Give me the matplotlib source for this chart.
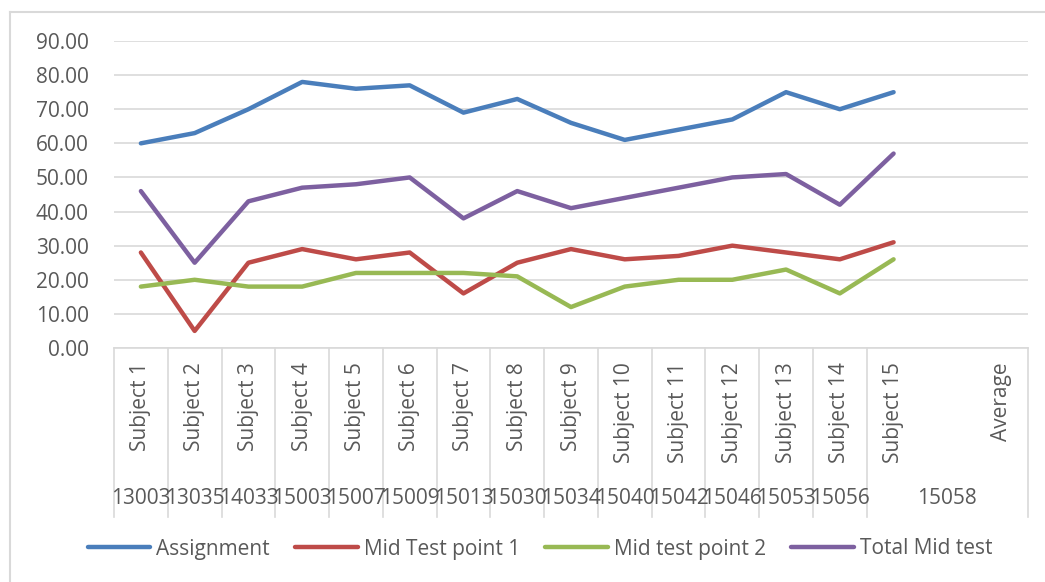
import matplotlib
matplotlib.use("Agg")
import matplotlib.pyplot as plt
import matplotlib.transforms as mtransforms
import numpy as np

# categories (inner level) and student ids (outer level)
categories = ["Subject %d" % i for i in range(1, 16)] + ["", "Average"]
groups = ["13003", "13035", "14033", "15003", "15007", "15009", "15013", "15030",
          "15034", "15040", "15042", "15046", "15053", "15056", "15058"]
group_sizes = [1] * 14 + [3]

assignment = [60, 63, 70, 78, 76, 77, 69, 73, 66, 61, 64, 67, 75, 70, 75]
mid_test_1 = [28, 5, 25, 29, 26, 28, 16, 25, 29, 26, 27, 30, 28, 26, 31]
mid_test_2 = [18, 20, 18, 18, 22, 22, 22, 21, 12, 18, 20, 20, 23, 16, 26]
total_mid = [46, 25, 43, 47, 48, 50, 38, 46, 41, 44, 47, 50, 51, 42, 57]

series = [
    ("Assignment", assignment, "#4A7EBB"),
    ("Mid Test point 1", mid_test_1, "#BE4B48"),
    ("Mid test point 2", mid_test_2, "#98B954"),
    ("Total Mid test", total_mid, "#7D60A0"),
]

plt.rcParams['font.family'] = ['Open Sans', 'DejaVu Sans']
text_color = "#595959"
grid_color = "#D9D9D9"
fs = 15

fig = plt.figure(figsize=(10.45, 5.82), dpi=100)
ax = fig.add_axes([114 / 1045, 1 - 348 / 582, (1028 - 114) / 1045, (348 - 41) / 582])

x = np.arange(len(categories))
for name, vals, color in series:
    ax.plot(x[:len(vals)], vals, color=color, lw=3.2, label=name, solid_capstyle='round')

ax.set_xlim(-0.5, len(categories) - 0.5)
ax.set_ylim(0, 90)
ax.set_yticks(np.arange(0, 91, 10))
ax.set_yticklabels(["%.2f" % v for v in np.arange(0, 91, 10)])
ax.yaxis.grid(True, color=grid_color, lw=1.2)
ax.set_axisbelow(True)
ax.tick_params(axis='y', length=0, pad=18, labelsize=fs, labelcolor=text_color)
ax.set_xticks([])
for s in ["top", "right", "left"]:
    ax.spines[s].set_visible(False)
ax.spines["bottom"].set_color(grid_color)
ax.spines["bottom"].set_linewidth(1.2)

# multi-level category axis
trans = mtransforms.blended_transform_factory(ax.transData, ax.transAxes)
ax_h = 348 - 41
sep_bottom = -(517 - 348) / ax_h
edges = [-0.5]
for n in group_sizes:
    edges.append(edges[-1] + n)
for e in edges:
    ax.plot([e, e], [0, sep_bottom], color=grid_color, lw=1.2, transform=trans, clip_on=False)

for i, lab in enumerate(categories):
    if lab:
        ax.text(i, -(362 - 348) / ax_h, lab, rotation=90, ha='center', va='top',
                fontsize=fs, color=text_color, transform=trans)

for g, lo, hi in zip(groups, edges[:-1], edges[1:]):
    ax.text((lo + hi) / 2, -(498 - 348) / ax_h, g, ha='center', va='center',
            fontsize=fs, color=text_color, transform=trans)

# chart border (top and left visible)
fig.add_artist(plt.Line2D([10 / 1045, 1], [1 - 12 / 582, 1 - 12 / 582], color=grid_color, lw=1.5))
fig.add_artist(plt.Line2D([10 / 1045, 10 / 1045], [0, 1 - 12 / 582], color=grid_color, lw=1.5))

fig.legend(loc='center', bbox_to_anchor=(540 / 1045, 1 - 549 / 582), ncol=4, frameon=False,
           fontsize=fs, labelcolor=text_color, handlelength=3.0, handletextpad=0.3,
           columnspacing=1.2)

fig.savefig("out.png", dpi=100)
